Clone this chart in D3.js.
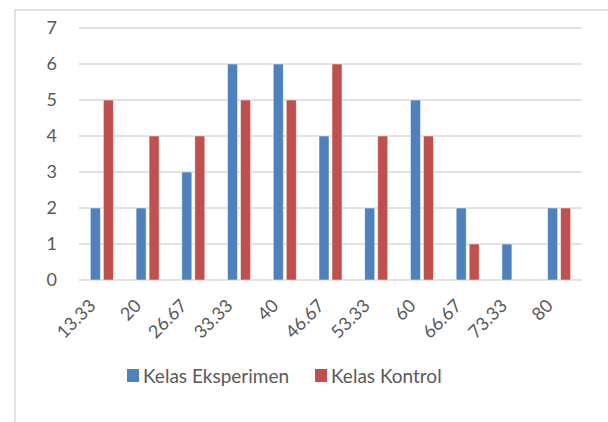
<!DOCTYPE html>
<html lang="en">
<head>
<meta charset="utf-8">
<title>Kelas Eksperimen vs Kelas Kontrol</title>
<script src="https://cdn.jsdelivr.net/npm/d3@7"></script>
<style>
  body { margin: 0; background: #fff; }
  text { font-family: Lato, "Open Sans", sans-serif; fill: #595959; }
</style>
</head>
<body>
<script>
// data
var categories = ["13.33", "20", "26.67", "33.33", "40", "46.67", "53.33", "60", "66.67", "73.33", "80"];
var eksperimen = [2, 2, 3, 6, 6, 4, 2, 5, 2, 1, 2];
var kontrol = [5, 4, 4, 5, 5, 6, 4, 4, 1, 0, 2];
var seriesNames = ["Kelas Eksperimen", "Kelas Kontrol"];
var colors = ["#4f81bd", "#c0504d"];
var yTicks = [0, 1, 2, 3, 4, 5, 6, 7];

var w = 608, h = 422;
var plotLeft = 79, plotRight = 582, plotTop = 28, plotBottom = 280;

var svg = d3.select("body").append("svg")
  .attr("width", w)
  .attr("height", h);

// chart frame (only top and left visible)
svg.append("path")
  .attr("d", "M15," + h + "V10H" + w)
  .attr("fill", "none")
  .attr("stroke", "#d9d9d9")
  .attr("stroke-width", 1.5);

var x = d3.scaleBand().domain(categories).range([plotLeft, plotRight]);
var y = d3.scaleLinear().domain([0, 7]).range([plotBottom, plotTop]);

// gridlines
svg.append("g")
  .selectAll("line")
  .data(yTicks)
  .enter().append("line")
  .attr("x1", plotLeft).attr("x2", plotRight)
  .attr("y1", function(d) { return y(d); })
  .attr("y2", function(d) { return y(d); })
  .attr("stroke", "#d9d9d9")
  .attr("stroke-width", 1.5);

// y labels
svg.append("g")
  .selectAll("text")
  .data(yTicks)
  .enter().append("text")
  .attr("x", 57)
  .attr("y", function(d) { return y(d); })
  .attr("dy", "0.36em")
  .attr("text-anchor", "end")
  .style("font-size", "18px")
  .text(function(d) { return d; });

// bars
var barW = 10, gap = 3;
var table = categories.map(function(c, i) { return { cat: c, vals: [eksperimen[i], kontrol[i]] }; });

var groups = svg.selectAll("g.cat")
  .data(table)
  .enter().append("g")
  .attr("class", "cat")
  .attr("transform", function(d) { return "translate(" + (x(d.cat) + x.bandwidth() / 2) + ",0)"; });

groups.selectAll("rect")
  .data(function(d) { return d.vals; })
  .enter().append("rect")
  .attr("x", function(d, i) { return i === 0 ? -barW - gap / 2 : gap / 2; })
  .attr("y", function(d) { return y(d); })
  .attr("width", barW)
  .attr("height", function(d) { return y(0) - y(d); })
  .attr("fill", function(d, i) { return colors[i]; })
  .attr("stroke", "#fff")
  .attr("stroke-opacity", function(d) { return d > 0 ? 0.6 : 0; })
  .attr("stroke-width", 0.8);

// x labels, rotated
svg.append("g")
  .selectAll("text")
  .data(categories)
  .enter().append("text")
  .attr("transform", function(d) {
    return "translate(" + (x(d) + x.bandwidth() / 2 - 14) + "," + 298 + ") rotate(-45)";
  })
  .attr("text-anchor", "end")
  .attr("dy", "0.7em")
  .style("font-size", "18px")
  .text(function(d) { return d; });

// legend
var legend = svg.append("g").attr("transform", "translate(127,369)");
var legX = [0, 188];
seriesNames.forEach(function(name, i) {
  legend.append("rect")
    .attr("x", legX[i]).attr("y", 0)
    .attr("width", 12).attr("height", 13)
    .attr("fill", colors[i]);
  legend.append("text")
    .attr("x", legX[i] + 16).attr("y", 14)
    .style("font-size", "19px")
    .text(name);
});
</script>
</body>
</html>
